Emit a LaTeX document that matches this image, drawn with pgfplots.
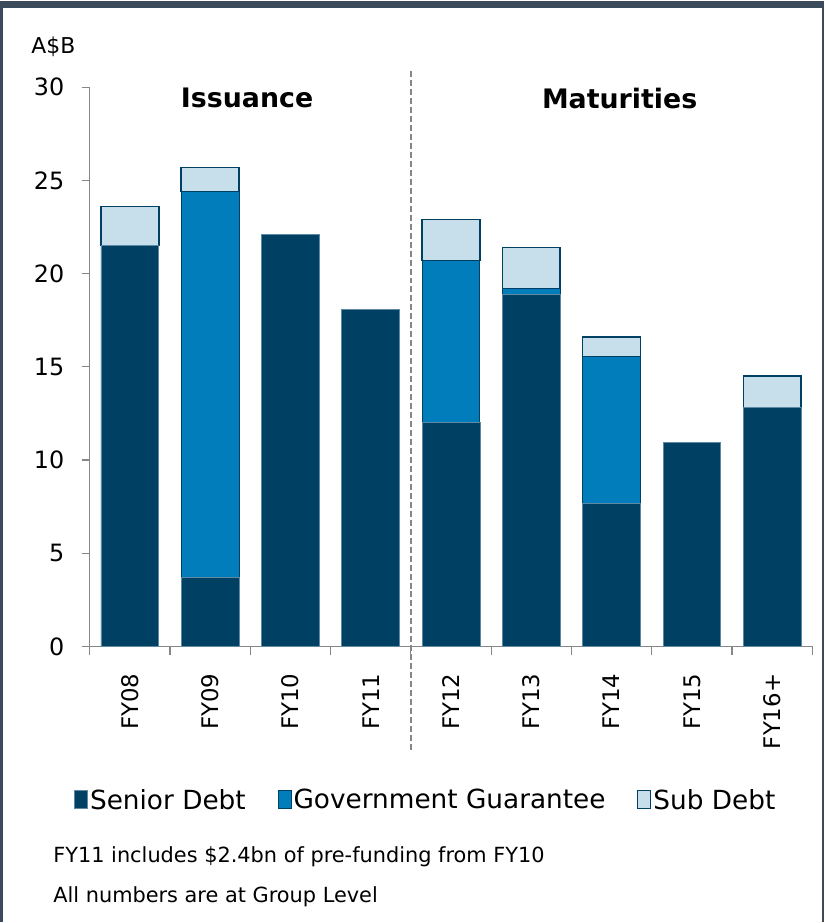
\documentclass[border=0pt]{standalone}
\usepackage{fontspec}
\setmainfont{DejaVu Sans}
\usepackage{pgfplots}
\pgfplotsset{compat=1.18}

\definecolor{senior}{HTML}{004062}
\definecolor{seniorEdge}{HTML}{5E88A3}
\definecolor{gg}{HTML}{007DBA}
\definecolor{subdebt}{HTML}{C7DFEB}
\definecolor{axisgray}{HTML}{868686}
\definecolor{frame}{HTML}{3C4B5C}

\begin{document}
\begin{tikzpicture}[x=1bp,y=1bp]
% page size and frame
\path (0,0) rectangle (827,923);
\fill[frame] (0,916) rectangle (827,923);
\draw[frame, line width=3bp] (1.5,0) -- (1.5,923);
\draw[frame, line width=2bp] (826,0) -- (826,923);

\node[anchor=west, font=\fontsize{22}{26}\selectfont] at (28,878) {A\$B};

\begin{axis}[
    at={(90bp,276bp)}, anchor=south west,
    scale only axis, width=725bp, height=561bp,
    xmin=-0.5, xmax=8.5, ymin=0, ymax=30,
    ybar stacked, bar width=58bp,
    axis x line*=bottom, axis y line*=left,
    axis line style={draw=axisgray, line width=1.2bp},
    tick style={draw=axisgray, line width=1.2bp},
    tick align=outside,
    major tick length=8bp, minor tick length=9bp,
    ytick={0,5,...,30},
    xtick={0,...,8},
    xticklabels={FY08,FY09,FY10,FY11,FY12,FY13,FY14,FY15,FY16+},
    xtick style={/pgfplots/major tick length=0bp},
    minor xtick={-0.5,0.5,...,8.5},
    /pgf/number format/assume math mode=true,
    yticklabel style={font=\fontsize{24}{28}\selectfont, xshift=-14bp},
    xticklabel style={rotate=90, anchor=east, xshift=-16bp,
        font=\fontsize{23}{28}\selectfont},
    clip=false,
    legend columns=3,
    legend style={at={(0.465,-0.2745)}, anchor=center, draw=none,
        font=\fontsize{26.5}{30}\selectfont,
        /tikz/every even column/.append style={column sep=30bp}},
    legend image code/.code={\draw[#1, line width=1bp] (0bp,-9bp) rectangle (13bp,9bp);},
]
\addplot[fill=senior, draw=seniorEdge, line width=0.8bp] coordinates {
    (0,21.5) (1,3.7) (2,22.1) (3,18.1) (4,12.0) (5,18.9) (6,7.65) (7,10.95) (8,12.8)
};
\addlegendentry{Senior Debt}
\addplot[fill=gg, draw=senior, line width=1bp] coordinates {
    (0,0) (1,20.7) (2,0) (3,0) (4,8.7) (5,0.3) (6,7.9) (7,0) (8,0)
};
\addlegendentry{Government Guarantee}
\addplot[fill=subdebt, draw=senior, line width=1.5bp] coordinates {
    (0,2.1) (1,1.3) (2,0) (3,0) (4,2.2) (5,2.2) (6,1.05) (7,0) (8,1.7)
};
\addlegendentry{Sub Debt}

\draw[axisgray, line width=1.5bp, dash pattern=on 6bp off 3bp]
    (axis cs:3.5,30.86) -- (axis cs:3.5,-5.6);
\node[font=\bfseries\fontsize{27}{31}\selectfont] at (axis cs:1.46,29.4) {Issuance};
\node[font=\bfseries\fontsize{27}{31}\selectfont] at (axis cs:6.1,29.4) {Maturities};
\end{axis}

\node[anchor=west, font=\fontsize{21}{25}\selectfont] at (50,65) {FY11 includes \$2.4bn of pre-funding from FY10};
\node[anchor=west, font=\fontsize{21}{25}\selectfont] at (50,25) {All numbers are at Group Level};
\end{tikzpicture}
\end{document}
